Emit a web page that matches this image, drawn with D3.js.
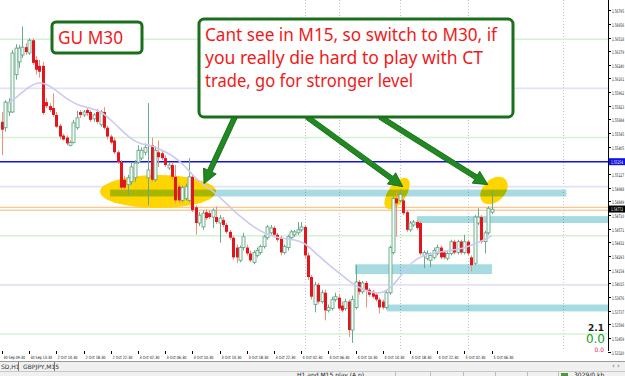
<!DOCTYPE html>
<html><head><meta charset="utf-8">
<script src="https://cdn.jsdelivr.net/npm/d3@7/dist/d3.min.js"></script>
<style>
html,body{margin:0;padding:0;background:#fff;overflow:hidden}
svg{display:block}
</style></head><body>
<svg id="c" width="625" height="376"></svg>
<script>
// ---------------- DATA ----------------
// GBPUSD M30 candles: [open, high, low, close]
const ohlc = [
[1.5566,1.5576,1.5532,1.5558],[1.5560,1.5588,1.5556,1.5586],[1.5576,1.5590,1.5572,1.5586],[1.5576,1.5639,1.5575,1.5636],
[1.5614,1.5645,1.5609,1.5641],[1.5627,1.5644,1.5621,1.5641],[1.5634,1.5663,1.5631,1.5642],[1.5642,1.5646,1.5634,1.5637],
[1.5636,1.5651,1.5634,1.5649],[1.5649,1.5651,1.5624,1.5626],[1.5629,1.5633,1.5614,1.5619],[1.5623,1.5629,1.5611,1.5617],
[1.5623,1.5627,1.5573,1.5575],[1.5586,1.5590,1.5580,1.5582],[1.5582,1.5585,1.5576,1.5578],[1.5580,1.5595,1.5571,1.5573],
[1.5573,1.5576,1.5560,1.5561],[1.5562,1.5564,1.5548,1.5551],[1.5552,1.5554,1.5547,1.5548],[1.5550,1.5552,1.5542,1.5544],
[1.5542,1.5547,1.5541,1.5545],[1.5545,1.5568,1.5544,1.5565],[1.5560,1.5577,1.5558,1.5570],[1.5576,1.5578,1.5570,1.5573],
[1.5573,1.5578,1.5571,1.5576],[1.5578,1.5580,1.5572,1.5575],[1.5576,1.5578,1.5566,1.5568],[1.5569,1.5575,1.5566,1.5573],
[1.5576,1.5579,1.5564,1.5566],[1.5563,1.5578,1.5561,1.5576],[1.5576,1.5581,1.5558,1.5560],[1.5560,1.5562,1.5548,1.5551],
[1.5551,1.5553,1.5543,1.5545],[1.5547,1.5550,1.5533,1.5535],[1.5535,1.5537,1.5523,1.5525],[1.5525,1.5527,1.5497,1.5499],
[1.5507,1.5511,1.5495,1.5499],[1.5502,1.5512,1.5491,1.5509],[1.5505,1.5524,1.5502,1.5520],[1.5509,1.5527,1.5505,1.5524],
[1.5525,1.5542,1.5523,1.5537],[1.5529,1.5540,1.5527,1.5537],[1.5535,1.5544,1.5532,1.5540],[1.5509,1.5585,1.5481,1.5517],
[1.5542,1.5550,1.5505,1.5507],[1.5507,1.5541,1.5505,1.5537],[1.5535,1.5547,1.5520,1.5530],[1.5534,1.5537,1.5527,1.5529],
[1.5529,1.5532,1.5520,1.5522],[1.5519,1.5525,1.5517,1.5522],[1.5522,1.5525,1.5507,1.5510],[1.5510,1.5522,1.5483,1.5486],
[1.5500,1.5502,1.5483,1.5486],[1.5486,1.5501,1.5484,1.5499],[1.5488,1.5503,1.5486,1.5500],[1.5486,1.5529,1.5484,1.5510],
[1.5510,1.5512,1.5474,1.5476],[1.5479,1.5481,1.5451,1.5463],[1.5463,1.5474,1.5460,1.5471],[1.5459,1.5476,1.5456,1.5473],
[1.5474,1.5477,1.5466,1.5468],[1.5473,1.5476,1.5467,1.5469],[1.5469,1.5478,1.5458,1.5476],[1.5469,1.5480,1.5462,1.5464],
[1.5463,1.5471,1.5443,1.5468],[1.5466,1.5469,1.5459,1.5461],[1.5461,1.5463,1.5452,1.5454],[1.5454,1.5456,1.5446,1.5448],
[1.5448,1.5450,1.5426,1.5428],[1.5438,1.5441,1.5422,1.5428],[1.5425,1.5440,1.5423,1.5438],[1.5438,1.5453,1.5435,1.5449],
[1.5438,1.5441,1.5430,1.5432],[1.5432,1.5435,1.5423,1.5425],[1.5423,1.5435,1.5421,1.5433],[1.5430,1.5438,1.5428,1.5435],
[1.5433,1.5441,1.5431,1.5439],[1.5439,1.5451,1.5437,1.5449],[1.5448,1.5461,1.5446,1.5459],[1.5453,1.5461,1.5451,1.5458],
[1.5458,1.5460,1.5449,1.5451],[1.5451,1.5453,1.5444,1.5446],[1.5448,1.5450,1.5430,1.5433],[1.5433,1.5441,1.5431,1.5439],
[1.5438,1.5451,1.5435,1.5449],[1.5448,1.5456,1.5446,1.5454],[1.5451,1.5456,1.5449,1.5454],[1.5453,1.5464,1.5451,1.5456],
[1.5456,1.5464,1.5454,1.5459],[1.5459,1.5461,1.5427,1.5430],[1.5430,1.5433,1.5405,1.5408],[1.5408,1.5410,1.5385,1.5388],
[1.5380,1.5403,1.5372,1.5400],[1.5400,1.5402,1.5381,1.5383],[1.5383,1.5395,1.5381,1.5392],[1.5392,1.5395,1.5364,1.5374],
[1.5374,1.5380,1.5372,1.5377],[1.5376,1.5388,1.5374,1.5385],[1.5385,1.5392,1.5383,1.5388],[1.5387,1.5390,1.5374,1.5376],
[1.5379,1.5383,1.5372,1.5374],[1.5376,1.5386,1.5374,1.5383],[1.5383,1.5385,1.5347,1.5354],[1.5354,1.5389,1.5341,1.5385],
[1.5377,1.5420,1.5375,1.5403],[1.5403,1.5405,1.5390,1.5393],[1.5393,1.5404,1.5391,1.5402],[1.5402,1.5404,1.5377,1.5395],
[1.5395,1.5397,1.5388,1.5390],[1.5393,1.5395,1.5386,1.5388],[1.5390,1.5392,1.5383,1.5385],[1.5385,1.5387,1.5371,1.5377],
[1.5383,1.5385,1.5375,1.5377],[1.5377,1.5395,1.5375,1.5392],[1.5392,1.5440,1.5390,1.5438],[1.5433,1.5490,1.5431,1.5488],
[1.5488,1.5495,1.5449,1.5483],[1.5486,1.5497,1.5484,1.5492],[1.5486,1.5488,1.5471,1.5473],[1.5474,1.5476,1.5454,1.5456],
[1.5456,1.5465,1.5454,1.5463],[1.5461,1.5466,1.5459,1.5464],[1.5464,1.5466,1.5456,1.5458],[1.5463,1.5465,1.5430,1.5432],
[1.5430,1.5435,1.5417,1.5433],[1.5427,1.5435,1.5425,1.5432],[1.5425,1.5433,1.5418,1.5430],[1.5428,1.5438,1.5426,1.5435],
[1.5432,1.5441,1.5430,1.5438],[1.5438,1.5440,1.5426,1.5428],[1.5433,1.5435,1.5426,1.5428],[1.5427,1.5434,1.5425,1.5432],
[1.5432,1.5446,1.5430,1.5444],[1.5444,1.5446,1.5431,1.5433],[1.5433,1.5446,1.5431,1.5444],[1.5444,1.5446,1.5431,1.5433],
[1.5433,1.5451,1.5431,1.5444],[1.5444,1.5446,1.5430,1.5432],[1.5428,1.5430,1.5414,1.5420],[1.5422,1.5471,1.5420,1.5469],
[1.5463,1.5478,1.5461,1.5469],[1.5469,1.5471,1.5442,1.5444],[1.5444,1.5455,1.5432,1.5453],[1.5453,1.5480,1.5451,1.5478],
[1.5474,1.5496,1.5472,1.5477]
];
// moving average: [bar index, value]
const maValues = [[2,1.5585],[5,1.5593],[8,1.5602],[11,1.5607],[14,1.5603],[17,1.5595],[20,1.5587],[23,1.5582],
[26,1.5580],[29,1.5577],[32,1.5568],[35,1.5558],[38,1.5548],[41,1.5543],[44,1.5542],[47,1.5537],[50,1.5532],
[53,1.5524],[56,1.5512],[59,1.5502],[62,1.5496],[65,1.5486],[68,1.5476],[71,1.5467],[74,1.5459],[77,1.5453],
[80,1.5449],[83,1.5447],[86,1.5446],[89,1.5443],[92,1.5433],[95,1.5424],[98,1.5415],[101,1.5407],[104,1.5399],
[107,1.5394],[110,1.5391],[113,1.5393],[116,1.5403],[119,1.5418],[122,1.5427],[125,1.5431],[128,1.5433],
[131,1.5435],[134,1.5436],[137,1.5439],[140,1.5443],[143,1.5448],[144,1.5450]];
const timeLabels = ["30 Sep 09:30","30 Sep 13:30","2 Oct 14:30","2 Oct 18:30","2 Oct 22:30","3 Oct 02:30","3 Oct 06:30",
"3 Oct 10:30","3 Oct 14:30","3 Oct 18:30","3 Oct 22:30","4 Oct 02:30","4 Oct 06:30","4 Oct 10:30","4 Oct 14:30",
"4 Oct 18:30","4 Oct 22:30","5 Oct 02:30","5 Oct 06:30"];
const priceTicks = [1.56795,1.56656,1.56518,1.56379,1.56240,1.56101,1.55962,1.55823,1.55684,1.55545,1.55405,
1.55127,1.54988,1.54849,1.54710,1.54571,1.54432,1.54293,1.54154,1.54015,1.53876,1.53737,1.53598,1.53459,1.53320];
const fiftyLevels = [1.5650,1.5550,1.5450,1.5350];
const roundLevels = [1.5600,1.5500,1.5400];
const blueLevel = 1.55254;
const orangeLevels = [1.5479,1.5476];
const lastPrice = 1.54772;
const separatorBars = [89,99,117,137,165];
// zones: [startBar, endBar, top, bottom]
const zones = [[31.8,166,1.5497,1.5490],[122,180,1.5470,1.5463],[103.8,144.1,1.5421,1.5411],[113.2,180,1.5380,1.5373]];
// highlight ellipses: [centerBar, centerPrice, rx, ry, angle]
const ellipses = [[45.9,1.5495,58,16.5,0],[116.2,1.5493,18,9,-55],[144.7,1.5496,16,11,-45]];
// arrows: [fromBar, fromPrice, toBar, toPrice]
const arrows = [[68.5,1.5571,59.4,1.5503],[89.7,1.5571,117.9,1.5500],[111.2,1.5571,142.9,1.5502]];
const noteLines = ["Cant see in M15, so switch to M30, if","you really die hard to play with CT","trade, go for stronger level"];

// ---------------- DRAW ----------------
const PR = 608, PB = 351;
const x = d3.scaleLinear().domain([0,144]).range([2,491.6]);
const y = d3.scaleLinear().domain([1.5690,1.53327]).range([0,351]);
const svg = d3.select('#c');
svg.append('rect').attr('width',625).attr('height',376).attr('fill','#fff');
svg.append('defs').append('clipPath').attr('id','plot').append('rect').attr('width',PR).attr('height',PB);
const g = svg.append('g').attr('clip-path','url(#plot)');
const px = v => Math.round(x(v)) + 0.5;
const py = v => Math.round(y(v)) + 0.5;

// dotted separators
g.selectAll('.sep').data(separatorBars).join('line')
 .attr('x1',px).attr('x2',px).attr('y1',0).attr('y2',PB)
 .attr('stroke','#c4c4c4').attr('stroke-dasharray','1,2');
// level lines
g.selectAll('.l50').data(fiftyLevels).join('line')
 .attr('x1',0).attr('x2',PR).attr('y1',d=>y(d)).attr('y2',d=>y(d))
 .attr('stroke','#d2f3d2').attr('stroke-width',1.6);
g.selectAll('.l00').data(roundLevels).join('line')
 .attr('x1',0).attr('x2',PR).attr('y1',d=>y(d)).attr('y2',d=>y(d))
 .attr('stroke','#e2e2f7').attr('stroke-width',1.8);
g.selectAll('.lor').data(orangeLevels).join('line')
 .attr('x1',0).attr('x2',PR).attr('y1',d=>y(d)).attr('y2',d=>y(d))
 .attr('stroke','#f6b774').attr('stroke-width',1);
g.append('line').attr('x1',0).attr('x2',PR).attr('y1',y(blueLevel)).attr('y2',y(blueLevel))
 .attr('stroke','#1010e8').attr('stroke-width',1.5);

// ellipses
g.selectAll('.ell').data(ellipses).join('ellipse')
 .attr('cx',0).attr('cy',0).attr('rx',d=>d[2]).attr('ry',d=>d[3])
 .attr('transform',d=>`translate(${x(d[0])},${y(d[1])}) rotate(${d[4]})`)
 .attr('fill','#ffd500');
// zones
g.selectAll('.zone').data(zones).join('rect')
 .attr('x',d=>x(d[0])).attr('width',d=>x(d[1])-x(d[0]))
 .attr('y',d=>y(d[2])).attr('height',d=>y(d[3])-y(d[2]))
 .attr('fill','#a7dbe2').style('mix-blend-mode','multiply');

// candles
const cg = g.append('g');
ohlc.forEach((d,i)=>{
  const [o,h,l,c] = d; const bull = c >= o; const cx = px(i);
  cg.append('line').attr('x1',cx).attr('x2',cx).attr('y1',y(h)).attr('y2',y(l))
    .attr('stroke', bull ? '#6aa98b' : '#f3907a').attr('stroke-width',1);
  const top = y(Math.max(o,c)), bot = y(Math.min(o,c));
  if (bull) {
    cg.append('rect').attr('x',cx-1.5).attr('width',3).attr('y',top).attr('height',Math.max(1,bot-top))
      .attr('fill','#f2faf5').attr('stroke','#6aa98b').attr('stroke-width',0.9);
  } else {
    cg.append('rect').attr('x',cx-1.5).attr('width',3).attr('y',top).attr('height',Math.max(1,bot-top))
      .attr('fill','#e3161d');
  }
});
// moving average
g.append('path').datum(maValues)
 .attr('d',d3.line().x(d=>x(d[0])).y(d=>y(d[1])).curve(d3.curveBasis))
 .attr('fill','none').attr('stroke','#cbcaf0').attr('stroke-width',1.6);

// arrows
function arrowPts(a){
  const x1=x(a[0]),y1=y(a[1]),x2=x(a[2]),y2=y(a[3]);
  const dx=x2-x1,dy=y2-y1,L=Math.hypot(dx,dy),ux=dx/L,uy=dy/L,nx=-uy,ny=ux;
  const hl=14,hw=7,sw=2.5,bx=x2-ux*hl,by=y2-uy*hl;
  return [[x1+nx*sw,y1+ny*sw],[bx+nx*sw,by+ny*sw],[bx+nx*hw,by+ny*hw],[x2,y2],
          [bx-nx*hw,by-ny*hw],[bx-nx*sw,by-ny*sw],[x1-nx*sw,y1-ny*sw]].map(p=>p.join(',')).join(' ');
}
svg.selectAll('.arr').data(arrows).join('polygon').attr('points',arrowPts)
 .attr('fill','#1f8a1f').attr('stroke','#145a14').attr('stroke-width',0.8);

// annotation boxes
svg.append('rect').attr('x',52).attr('y',22).attr('width',90).attr('height',31).attr('rx',4)
 .attr('fill','#fff').attr('stroke','#1b6e1b').attr('stroke-width',3);
svg.append('text').attr('x',58).attr('y',44).text('GU M30')
 .attr('font-family','Noto Sans, sans-serif').attr('font-size',17.5).attr('fill','#f01a1a')
 .attr('textLength',65).attr('lengthAdjust','spacingAndGlyphs');
svg.append('rect').attr('x',199).attr('y',19).attr('width',314).attr('height',98).attr('rx',5)
 .attr('fill','#fff').attr('stroke','#1b6e1b').attr('stroke-width',3);
const lens=[292,278,208];
svg.selectAll('.note').data(noteLines).join('text')
 .attr('x',205).attr('y',(d,i)=>41+i*23).text(d=>d)
 .attr('font-family','Noto Sans, sans-serif').attr('font-size',17.5).attr('fill','#f01a1a')
 .attr('textLength',(d,i)=>lens[i]).attr('lengthAdjust','spacingAndGlyphs');

// right price axis
svg.append('line').attr('x1',PR+0.5).attr('x2',PR+0.5).attr('y1',0).attr('y2',PB).attr('stroke','#000');
const ax = svg.append('g');
const lab = (sel)=>sel.attr('font-family','DejaVu Sans, sans-serif').attr('font-size',4.8)
  .attr('textLength',12).attr('lengthAdjust','spacingAndGlyphs');
priceTicks.forEach(p=>{
  const yy = py(p);
  ax.append('line').attr('x1',PR).attr('x2',PR+3).attr('y1',yy).attr('y2',yy).attr('stroke','#000');
  lab(ax.append('text').attr('x',PR+4).attr('y',yy+2).text(p.toFixed(5)).attr('fill','#111'));
});
function hiLabel(p,bg){
  const yy=y(p);
  ax.append('rect').attr('x',PR+1).attr('y',yy-3.5).attr('width',16).attr('height',7).attr('fill',bg);
  lab(ax.append('text').attr('x',PR+3).attr('y',yy+2).text(p.toFixed(5)).attr('fill','#fff'));
}
hiLabel(blueLevel,'#1010e8');
hiLabel(lastPrice,'#000');

// indicator values
svg.append('text').attr('x',604).attr('y',331).attr('text-anchor','end').text('2.1')
 .attr('font-family','DejaVu Sans, sans-serif').attr('font-weight','bold').attr('font-size',9).attr('fill','#222');
svg.append('text').attr('x',605).attr('y',342.5).attr('text-anchor','end').text('0.0')
 .attr('font-family','DejaVu Sans, sans-serif').attr('font-size',12).attr('fill','#12a012');
svg.append('text').attr('x',604).attr('y',351.5).attr('text-anchor','end').text('0.0')
 .attr('font-family','DejaVu Sans, sans-serif').attr('font-size',6).attr('fill','#e0305a');

// time axis
const tg = svg.append('g');
timeLabels.forEach((t,k)=>{
  const xx = px(k*8);
  tg.append('line').attr('x1',xx).attr('x2',xx).attr('y1',PB).attr('y2',PB+3).attr('stroke','#000');
  tg.append('text').attr('x',xx+1).attr('y',359).text(t)
    .attr('font-family','DejaVu Sans, sans-serif').attr('font-size',4.4).attr('fill','#111')
    .attr('textLength',t.length>11?21.5:20).attr('lengthAdjust','spacingAndGlyphs');
});

// tab strip & status bar
svg.append('rect').attr('x',0).attr('y',361).attr('width',625).attr('height',15).attr('fill','#f0f0f0');
svg.append('line').attr('x1',0).attr('x2',625).attr('y1',361.5).attr('y2',361.5).attr('stroke','#9a9a9a');
svg.append('line').attr('x1',0).attr('x2',625).attr('y1',371.5).attr('y2',371.5).attr('stroke','#c8c8c8');
const tabs=[['SD,H1',1],['GBPJPY,M15',23]];
tabs.forEach(t=>svg.append('text').attr('x',t[1]).attr('y',368.5).text(t[0])
 .attr('font-family','DejaVu Sans, sans-serif').attr('font-size',6).attr('fill','#333'));
[18.5,54.5].forEach(s=>svg.append('line').attr('x1',s).attr('x2',s).attr('y1',362).attr('y2',371).attr('stroke','#777'));
svg.append('text').attr('x',612).attr('y',368).text('‹  ›').attr('font-size',7).attr('fill','#666')
 .attr('font-family','DejaVu Sans, sans-serif');
svg.append('text').attr('x',297).attr('y',377).text('H1 and M15 play (A.p)')
 .attr('font-family','DejaVu Sans, sans-serif').attr('font-size',6).attr('fill','#222');
[395.5,430.5,463.5,495.5,527.5,558.5].forEach(s=>svg.append('line').attr('x1',s).attr('x2',s).attr('y1',372).attr('y2',376).attr('stroke','#bbb'));
svg.append('rect').attr('x',561).attr('y',373).attr('width',7).attr('height',3).attr('fill','#4a9a3a');
svg.append('text').attr('x',574).attr('y',377).text('3029/0 kb')
 .attr('font-family','DejaVu Sans, sans-serif').attr('font-size',6).attr('fill','#222');
</script>
</body></html>
